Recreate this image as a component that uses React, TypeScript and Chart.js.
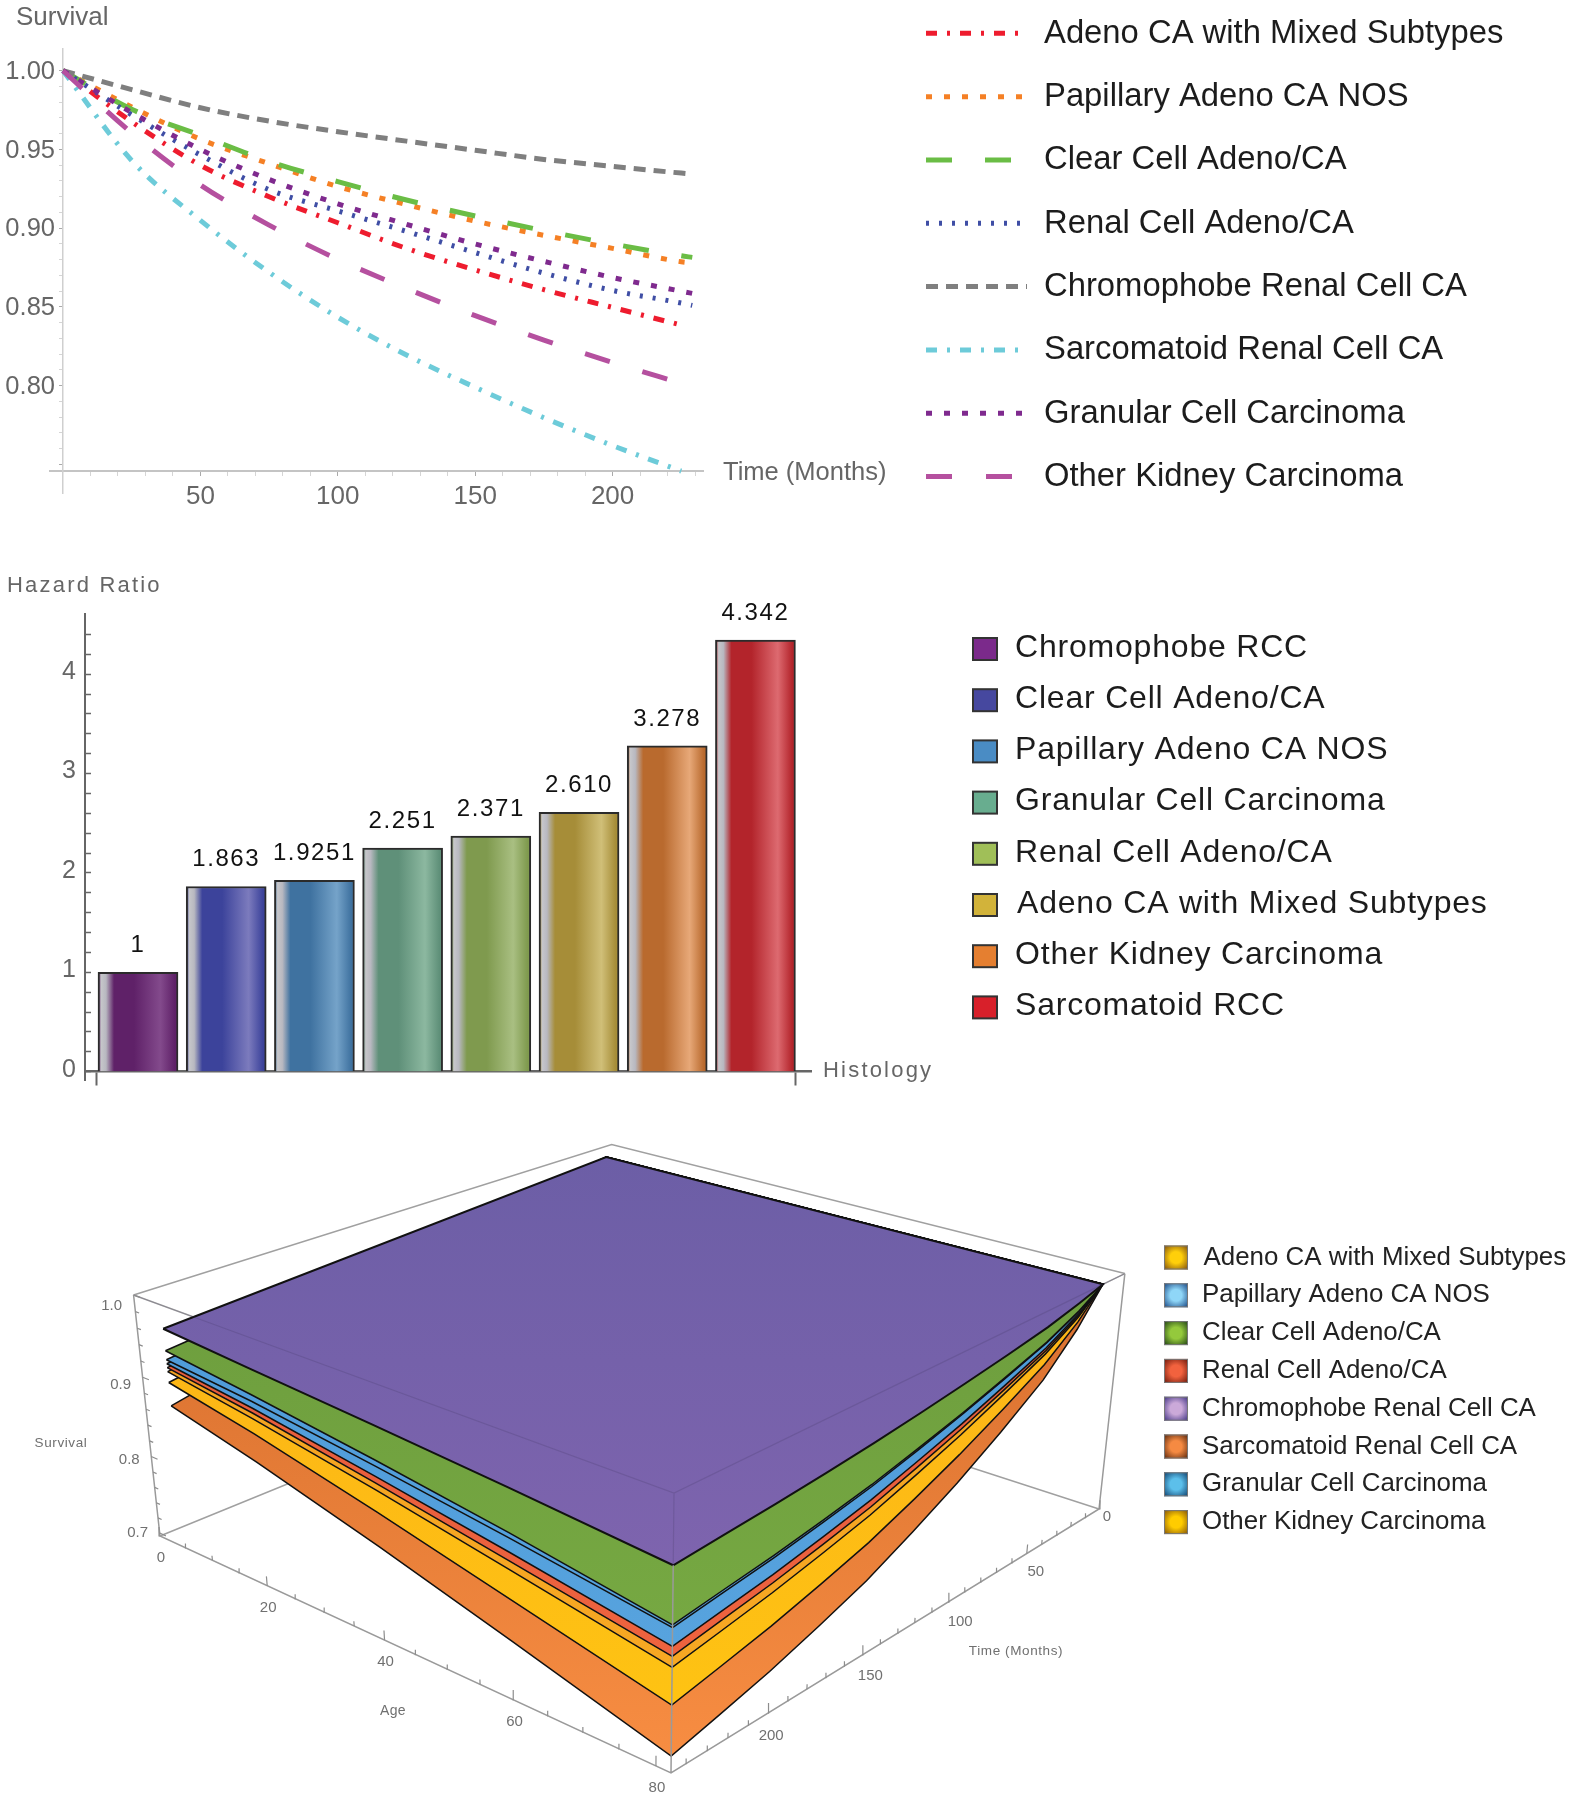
import React, { useEffect, useRef } from "react";
import { Chart, registerables } from "chart.js";
Chart.register(...registerables);

const FONT = '"Liberation Sans", Arial, sans-serif';
const W = 1574;

/* ---------- line chart data ---------- */
const months = [0, 25, 50, 75, 100, 125, 150, 175, 200, 225, 229];
const adenoMixed = [1, 0.9676, 0.94, 0.92, 0.9035, 0.8872, 0.8735, 0.861, 0.8497, 0.8385, null];
const papillary = [1, 0.977, 0.9565, 0.941, 0.9265, 0.915, 0.9045, 0.8955, 0.8872, 0.8787, 0.878];
const clearCell = [1, 0.9755, 0.959, 0.9425, 0.9296, 0.9179, 0.9078, 0.8985, 0.89, 0.8825, 0.8815];
const renalCell = [1, 0.972, 0.9465, 0.9245, 0.911, 0.898, 0.8845, 0.8715, 0.8605, 0.8525, 0.851];
const chromophobe = [1, 0.988, 0.9765, 0.968, 0.9613, 0.9553, 0.9495, 0.9437, 0.9393, 0.935, 0.9344];
const sarcomatoid = [1, 0.943, 0.905, 0.872, 0.8435, 0.8195, 0.799, 0.7797, 0.762, 0.7458, null];
const granular = [1, 0.9735, 0.95, 0.931, 0.9155, 0.9025, 0.89, 0.879, 0.8687, 0.86, 0.8586];
const otherKidney = [1, 0.9605, 0.9275, 0.902, 0.8803, 0.8617, 0.8445, 0.829, 0.8148, 0.8015, null];
const lineNames = ["Adeno CA with Mixed Subtypes", "Papillary Adeno CA NOS", "Clear Cell Adeno/CA", "Renal Cell Adeno/CA", "Chromophobe Renal Cell CA", "Sarcomatoid Renal Cell CA", "Granular Cell Carcinoma", "Other Kidney Carcinoma"];
const lineValues = [adenoMixed, papillary, clearCell, renalCell, chromophobe, sarcomatoid, granular, otherKidney];
const lineColors = ["#ee1c2e", "#f58025", "#6abd45", "#3f4ea5", "#7f7f7f", "#6dcbd9", "#7f2a8e", "#b5509f"];
const lineDashes = [[11, 10, 3, 10], [6, 12], [26, 33], [3, 10], [12, 8], [11, 10, 3, 10], [6, 12], [26, 34]];
const timeLabelled = [50, 100, 150, 200];
const survivalLabelled = [1, 0.95, 0.9, 0.85, 0.8];

/* ---------- bar chart data ---------- */
const histology = ["Chromophobe RCC", "Clear Cell Adeno/CA", "Papillary Adeno CA NOS", "Granular Cell Carcinoma", "Renal Cell Adeno/CA", "Adeno CA with Mixed Subtypes", "Other Kidney Carcinoma", "Sarcomatoid RCC"];
const hazardRatio = [1, 1.863, 1.9251, 2.251, 2.371, 2.61, 3.278, 4.342];
const hazardText = ["1", "1.863", "1.9251", "2.251", "2.371", "2.610", "3.278", "4.342"];
const hazardLabelled = [0, 1, 2, 3, 4];
const barDark = ["#5f2168", "#3c439b", "#3f72a0", "#5f9079", "#7f9a4e", "#a68d38", "#b96a2e", "#b3242b"];
const barLight = ["#834a8c", "#7c7bbd", "#75a3c9", "#8cb8a0", "#a9bf82", "#d0bf78", "#e7a878", "#dd6a70"];
const barSwatch = ["#7b2a8b", "#46489f", "#4a8cc4", "#68ad8f", "#a0bf58", "#d2b33a", "#e57f30", "#d8202a"];

/* ---------- 3D surface data ---------- */
const surfaceAges = [5, 20, 40, 60, 82];
const surfaceTimes = [15, 30, 50, 75, 100, 125, 150, 175, 200, 225, 247];
const backCornerAge = 3.5;
const chromoAlongAge = [0.9716, 0.963, 0.952, 0.94, 0.9254];
const clearAlongAge = [0.9452, 0.932, 0.912, 0.89, 0.862];
const papillaryAlongAge = [0.9343, 0.924, 0.905, 0.884, 0.859];
const granularAlongAge = [0.9295, 0.916, 0.893, 0.868, 0.8386];
const renalAlongAge = [0.9247, 0.91, 0.885, 0.858, 0.8276];
const adenoAlongAge = [0.9198, 0.903, 0.877, 0.848, 0.8155];
const otherAlongAge = [0.9066, 0.885, 0.851, 0.814, 0.7735];
const sarcomaAlongAge = [0.8777, 0.851, 0.81, 0.766, 0.7155];
const chromoAlongTime = [1, 0.9905, 0.9799, 0.9703, 0.9615, 0.9534, 0.9459, 0.9397, 0.9342, 0.9296, 0.9254];
const clearAlongTime = [1, 0.981, 0.9618, 0.9442, 0.9275, 0.9127, 0.8989, 0.8878, 0.8778, 0.8695, 0.862];
const papillaryAlongTime = [1, 0.9805, 0.961, 0.943, 0.926, 0.9108, 0.8966, 0.8853, 0.875, 0.8665, 0.859];
const granularAlongTime = [1, 0.9775, 0.9549, 0.9343, 0.9147, 0.8975, 0.8813, 0.8683, 0.8566, 0.847, 0.8386];
const renalAlongTime = [1, 0.9755, 0.9516, 0.9296, 0.9087, 0.8903, 0.873, 0.8595, 0.8471, 0.8368, 0.8276];
const adenoAlongTime = [1, 0.9735, 0.9479, 0.9242, 0.9018, 0.8822, 0.8638, 0.8494, 0.8361, 0.825, 0.8155];
const otherAlongTime = [1, 0.9675, 0.935, 0.9055, 0.8782, 0.8539, 0.8316, 0.8141, 0.7981, 0.7848, 0.7735];
const sarcomaAlongTime = [1, 0.9585, 0.9161, 0.8783, 0.8441, 0.814, 0.7864, 0.765, 0.7453, 0.7292, 0.7155];
const surfacesBottomUp = [
  { age: sarcomaAlongAge, time: sarcomaAlongTime, top: "#d0682a", bottom: "#f78d42" },
  { age: otherAlongAge, time: otherAlongTime, top: "#fcae18", bottom: "#fec313" },
  { age: adenoAlongAge, time: adenoAlongTime, top: "#f2a21f", bottom: "#f7a823" },
  { age: renalAlongAge, time: renalAlongTime, top: "#e2583a", bottom: "#ee633f" },
  { age: granularAlongAge, time: granularAlongTime, top: "#4a97d6", bottom: "#57a3de" },
  { age: papillaryAlongAge, time: papillaryAlongTime, top: "#4a97d6", bottom: "#57a3de" },
  { age: clearAlongAge, time: clearAlongTime, top: "#6a9a3c", bottom: "#76a842" },
  { age: chromoAlongAge, time: chromoAlongTime, top: "#6c5ea6", bottom: "#7e64ae" },
];
const surfaceLegend = ["Adeno CA with Mixed Subtypes", "Papillary Adeno CA NOS", "Clear Cell Adeno/CA", "Renal Cell Adeno/CA", "Chromophobe Renal Cell CA", "Sarcomatoid Renal Cell CA", "Granular Cell Carcinoma", "Other Kidney Carcinoma"];
const surfaceLegendInner = ["#ffcf0a", "#8fd6f7", "#94c93c", "#f2623e", "#cba9d9", "#f58a42", "#5cbfea", "#ffcc00"];
const surfaceLegendOuter = ["#7a4a10", "#12407f", "#1a3c12", "#661508", "#3a2e80", "#55230a", "#0b3c6a", "#80500a"];
const ageTicksLabelled = [0, 20, 40, 60, 80];
const timeTicksLabelled = [0, 50, 100, 150, 200];
const timeLabelDx = [8, 9, 12, 8, 3];
const timeLabelDy = [8, 18, 20, 21, 23];
const survivalTicksLabelled = [0.7, 0.8, 0.9, 1.0];

/* view of the 3D box: a perspective camera fixed by four box corners */
const AGE_MAX = 82, TIME_MAX = 247, Z_MIN = 0.696, Z_MAX = 1.0;
const frontBottom = [671, 1773, 1], leftBottom = [160, 1536, 1.215], rightBottom = [1099, 1509, 1.25], frontTop = [674, 1493, 0.935];
const homog = (p: number[]) => [p[0] * p[2], p[1] * p[2], p[2]];
const hF = homog(frontBottom), hL = homog(leftBottom), hR = homog(rightBottom), hT = homog(frontTop);
function project(age: number, time: number, z: number) {
  const a = 1 - age / AGE_MAX, t = 1 - time / TIME_MAX, w = (z - Z_MIN) / (Z_MAX - Z_MIN);
  const h = [0, 1, 2].map((i) => hF[i] + a * (hL[i] - hF[i]) + t * (hR[i] - hF[i]) + w * (hT[i] - hF[i]));
  return { x: h[0] / h[2], y: h[1] / h[2] };
}

function text(ctx: any, s: string, x: number, y: number, size: number, color: string, align = "left", spacing = 0) {
  ctx.save();
  ctx.font = `${size}px ${FONT}`;
  ctx.fillStyle = color;
  ctx.textAlign = align;
  ctx.textBaseline = "middle";
  ctx.letterSpacing = `${spacing}px`;
  ctx.fillText(s, x, y);
  ctx.restore();
}

export default function App() {
  const a = useRef<HTMLCanvasElement>(null);
  const b = useRef<HTMLCanvasElement>(null);
  const c = useRef<HTMLCanvasElement>(null);

  useEffect(() => {
    /* ---------- survival curves ---------- */
    const xTicks1: number[] = [];
    for (let v = 10; v <= 230; v += 10) xTicks1.push(v);
    const yTicks1: number[] = [];
    for (let v = 75; v <= 100; v += 1) yTicks1.push(v / 100);
    const isYMajor = (v: number) => Math.round(v * 100) % 5 === 0;
    const line = new Chart(a.current!, {
      type: "scatter",
      data: {
        datasets: lineNames.map((name, i) => ({
          label: name,
          data: months.map((m, k) => ({ x: m, y: lineValues[i][k] })).filter((p) => p.y !== null),
          showLine: true,
          borderColor: lineColors[i],
          borderWidth: 5,
          borderDash: lineDashes[i],
          borderCapStyle: "butt",
          pointRadius: 0,
          cubicInterpolationMode: "monotone",
          order: 8 - i,
        })),
      },
      options: {
        animation: false, responsive: false, devicePixelRatio: 1,
        layout: { padding: { left: 50, right: W - 703, top: 49, bottom: 540 - 493 } },
        plugins: { legend: { display: false }, tooltip: { enabled: false } },
        scales: {
          x: {
            type: "linear", min: -4.73, max: 232.9, position: { y: 0.746 },
            afterBuildTicks: (s: any) => { s.ticks = xTicks1.map((value) => ({ value })); },
            grid: { drawOnChartArea: false, tickLength: 4, tickColor: (t: any) => (t.tick && t.tick.value % 50 === 0 ? "#aaa" : "#d5d5d5") },
            border: { color: "#c4c4c4", width: 2 },
            ticks: {
              autoSkip: false, maxRotation: 0, padding: 6, color: "#666", font: { family: FONT, size: 26 },
              callback: (v: number) => (timeLabelled.includes(v) ? String(v) : ""),
            },
          },
          y: {
            type: "linear", min: 0.7319, max: 1.0138, position: { x: 0 },
            afterBuildTicks: (s: any) => { s.ticks = yTicks1.map((value) => ({ value })); },
            grid: { drawOnChartArea: false, tickLength: 3, tickColor: (t: any) => (t.tick && isYMajor(t.tick.value) ? "#aaa" : "#d5d5d5") },
            border: { color: "#cfcfcf", width: 1.5 },
            ticks: { display: false },
          },
        },
      },
      plugins: [{
        id: "lineText",
        afterDraw(ch: any) {
          const ctx = ch.ctx;
          survivalLabelled.forEach((v) => text(ctx, v.toFixed(2), 55, ch.scales.y.getPixelForValue(v) + 1, 25.5, "#666", "right"));
          text(ctx, "Survival", 16, 18, 26, "#666");
          text(ctx, "Time (Months)", 723, 473, 25.5, "#666");
          lineNames.forEach((name, i) => {
            const y = 33.3 + i * 63.33;
            ctx.save();
            ctx.strokeStyle = lineColors[i];
            ctx.lineWidth = 5;
            ctx.setLineDash(lineDashes[i]);
            ctx.beginPath();
            ctx.moveTo(926, y);
            ctx.lineTo(1027, y);
            ctx.stroke();
            ctx.restore();
            text(ctx, name, 1044, y + 0.5, 32.8, "#1c1c1c");
          });
        },
      }],
    } as any);

    /* ---------- hazard ratio bars ---------- */
    const top2 = 540;
    const yTicks2: number[] = [];
    for (let v = 2; v <= 44; v += 2) yTicks2.push(v / 10);
    const bar = new Chart(b.current!, {
      type: "bar",
      data: {
        datasets: [{
          label: "Hazard Ratio",
          data: hazardRatio.map((y, x) => ({ x, y })),
          barThickness: 80,
          borderWidth: 2,
          borderColor: "#2b2b2b",
          backgroundColor: (ctx: any) => {
            const s = ctx.chart.scales.x;
            const i = ctx.dataIndex;
            if (!s || i === undefined) return "#888";
            const cx = s.getPixelForValue(i);
            if (!Number.isFinite(cx)) return barDark[i];
            const g = ctx.chart.ctx.createLinearGradient(cx - 40, 0, cx + 40, 0);
            g.addColorStop(0, barDark[i]);
            g.addColorStop(0.04, "#c6c6ca");
            g.addColorStop(0.1, "#b8b8c0");
            g.addColorStop(0.2, barDark[i]);
            g.addColorStop(0.45, barDark[i]);
            g.addColorStop(0.78, barLight[i]);
            g.addColorStop(0.96, barDark[i]);
            g.addColorStop(1, barDark[i]);
            return g;
          },
        }],
      },
      options: {
        animation: false, responsive: false, devicePixelRatio: 1,
        layout: { padding: { left: 85, right: W - 811, top: 614 - top2, bottom: 1110 - 1080 } },
        plugins: { legend: { display: false }, tooltip: { enabled: false } },
        scales: {
          x: {
            type: "linear", min: -0.601, max: 7.63, position: { y: 0 }, offset: false,
            afterBuildTicks: (s: any) => { s.ticks = [{ value: -0.465 }, { value: 7.449 }]; },
            grid: { offset: false, drawOnChartArea: false, tickLength: 13, tickColor: "#666", tickWidth: 2 },
            border: { color: "#666", width: 2.5 },
            ticks: { display: false },
          },
          y: {
            type: "linear", min: -0.0835, max: 4.605, position: { x: -0.601 },
            afterBuildTicks: (s: any) => { s.ticks = [{ value: 0 }, ...yTicks2.map((value) => ({ value }))]; },
            grid: { drawOnChartArea: false, tickLength: -7, tickColor: "#666", tickWidth: 1.5 },
            border: { color: "#666", width: 2 },
            ticks: { display: false },
          },
        },
      },
      plugins: [{
        id: "barText",
        afterDraw(ch: any) {
          const ctx = ch.ctx;
          const meta = ch.getDatasetMeta(0);
          hazardLabelled.forEach((v) => text(ctx, String(v), 76, ch.scales.y.getPixelForValue(v) - 2, 25, "#666", "right"));
          hazardText.forEach((t, i) => {
            const el = meta.data[i];
            text(ctx, t, el.x, el.y - 27, 24, "#111", "center", 1.6);
          });
          text(ctx, "Hazard Ratio", 7, 586 - top2, 22, "#666", "left", 2.2);
          text(ctx, "Histology", 823, 1071 - top2, 22, "#666", "left", 2.2);
          histology.forEach((name, i) => {
            const y = 649 + i * 51.2 - top2;
            ctx.save();
            ctx.fillStyle = barSwatch[i];
            ctx.strokeStyle = "#333";
            ctx.lineWidth = 2;
            ctx.fillRect(973, y - 11, 24, 22);
            ctx.strokeRect(973, y - 11, 24, 22);
            ctx.restore();
            text(ctx, name, i === 5 ? 1017 : 1015, y - 1, 32, "#1c1c1c", "left", 0.8);
          });
        },
      }],
    } as any);

    /* ---------- 3D surfaces, projected through the camera and drawn on linear scales ---------- */
    const top3 = 1110;
    const gap = { x: NaN, y: NaN };
    const frame = (color: string, width: number, order: number, data: any[]) => ({
      data, showLine: true, borderColor: color, borderWidth: width, pointRadius: 0, tension: 0, order,
    });
    const zMaxC = Z_MAX, zMinC = Z_MIN;
    const backLines = [
      project(0, TIME_MAX, zMinC), project(0, 0, zMinC), project(AGE_MAX, 0, zMinC), gap,
      project(0, TIME_MAX, zMaxC), project(0, 0, zMaxC), project(AGE_MAX, 0, zMaxC), gap,
      project(0, TIME_MAX, zMaxC), project(AGE_MAX, TIME_MAX, zMaxC), project(AGE_MAX, 0, zMaxC),
    ];
    const faintLines = [
      project(0, TIME_MAX, zMaxC), project(AGE_MAX, TIME_MAX, zMaxC), project(AGE_MAX, 0, zMaxC), gap,
      project(AGE_MAX, TIME_MAX, zMaxC), project(AGE_MAX, TIME_MAX, chromoAlongAge[4]),
    ];
    const frontLines = [
      project(0, TIME_MAX, zMaxC), project(0, TIME_MAX, zMinC), project(AGE_MAX, TIME_MAX, zMinC), project(AGE_MAX, 0, zMinC), project(AGE_MAX, 0, zMaxC), gap,
      project(AGE_MAX, TIME_MAX, chromoAlongAge[4]), project(AGE_MAX, TIME_MAX, zMinC),
    ];
    const tickPts: any[] = [];
    for (let v = 0; v <= 80; v += 5) {
      tickPts.push(project(v, TIME_MAX, zMinC), project(v, TIME_MAX, zMinC + (v % 20 === 0 ? 0.012 : 0.006)), gap);
    }
    for (let v = 0; v <= 240; v += 10) {
      tickPts.push(project(AGE_MAX, v, zMinC), project(AGE_MAX, v, zMinC + (v % 50 === 0 ? 0.012 : 0.006)), gap);
    }
    for (let v = 70; v <= 100; v += 2) {
      const z = v / 100;
      tickPts.push(project(0, TIME_MAX, z), project(v % 10 === 0 ? 1.2 : 0.7, TIME_MAX, z), gap);
    }
    const surfaceSets = surfacesBottomUp.map((s, i) => {
      const pts: any[] = [];
      surfaceAges.forEach((ag, k) => pts.push(project(ag, TIME_MAX, s.age[k])));
      for (let k = surfaceTimes.length - 2; k >= 0; k--) pts.push(project(AGE_MAX, surfaceTimes[k], s.time[k]));
      pts.push(project(backCornerAge, surfaceTimes[0], 1));
      pts.push(pts[0]);
      return {
        data: pts, showLine: true, borderColor: "#111", borderWidth: i === surfacesBottomUp.length - 1 ? 2 : 1.5, pointRadius: 0, tension: 0,
        order: 100 - i, surfaceTop: s.top, surfaceBottom: s.bottom,
      };
    });
    const surface = new Chart(c.current!, {
      type: "scatter",
      data: {
        datasets: [
          frame("#a0a0a0", 1.5, 200, backLines),
          ...surfaceSets,
          frame("rgba(60,50,90,0.2)", 1.2, 3, faintLines),
          frame("#9a9a9a", 1.5, 2, frontLines),
          frame("#8d8d8d", 1.2, 1, tickPts),
        ],
      },
      options: {
        animation: false, responsive: false, devicePixelRatio: 1,
        layout: { padding: 0 },
        plugins: { legend: { display: false }, tooltip: { enabled: false } },
        scales: {
          x: { type: "linear", min: 0, max: W, display: false },
          y: { type: "linear", min: top3, max: 1800, reverse: true, display: false },
        },
      },
      plugins: [{
        id: "surfaceFill",
        beforeDatasetDraw(ch: any, args: any) {
          const ds = ch.data.datasets[args.index];
          if (!ds.surfaceTop) return;
          const pts = args.meta.data;
          const ctx = ch.ctx;
          let minY = Infinity, maxY = -Infinity;
          pts.forEach((p: any) => { minY = Math.min(minY, p.y); maxY = Math.max(maxY, p.y); });
          const g = ctx.createLinearGradient(0, minY, 0, maxY);
          g.addColorStop(0, ds.surfaceTop);
          g.addColorStop(1, ds.surfaceBottom);
          ctx.save();
          ctx.fillStyle = g;
          ctx.beginPath();
          pts.forEach((p: any, i: number) => (i ? ctx.lineTo(p.x, p.y) : ctx.moveTo(p.x, p.y)));
          ctx.closePath();
          ctx.fill();
          ctx.restore();
        },
      }, {
        id: "surfaceText",
        afterDraw(ch: any) {
          const ctx = ch.ctx;
          const sx = ch.scales.x, sy = ch.scales.y;
          const put = (s: string, p: { x: number; y: number }, dx: number, dy: number, size = 15, spacing = 0) =>
            text(ctx, s, sx.getPixelForValue(p.x) + dx, sy.getPixelForValue(p.y) + dy, size, "#707070", "center", spacing);
          ageTicksLabelled.forEach((v) => put(String(v), project(v, TIME_MAX, zMinC), 1, 22));
          timeTicksLabelled.forEach((v, i) => put(String(v), project(AGE_MAX, v, zMinC), timeLabelDx[i], timeLabelDy[i]));
          survivalTicksLabelled.forEach((v) => put(v.toFixed(1), project(0, TIME_MAX, v), -22, (v - 0.7) * 36));
          text(ctx, "Survival", 61, 1443 - top3, 13.5, "#707070", "center", 0.6);
          text(ctx, "Age", 393, 1711 - top3, 14, "#707070", "center", 0.4);
          text(ctx, "Time (Months)", 1016, 1651 - top3, 13.5, "#707070", "center", 0.6);
          surfaceLegend.forEach((name, i) => {
            const y = 1257.5 + i * 37.8 - top3;
            const g = ctx.createRadialGradient(1176, y, 1, 1176, y, 17);
            g.addColorStop(0, surfaceLegendInner[i]);
            g.addColorStop(0.3, surfaceLegendInner[i]);
            g.addColorStop(1, surfaceLegendOuter[i]);
            ctx.save();
            ctx.fillStyle = g;
            ctx.fillRect(1164, y - 12, 24, 24);
            ctx.strokeStyle = "#777";
            ctx.lineWidth = 1;
            ctx.strokeRect(1164.5, y - 11.5, 23, 23);
            ctx.restore();
            text(ctx, name, i === 0 ? 1203.5 : 1202, y, 25.9, "#222");
          });
        },
      }],
    } as any);

    return () => { line.destroy(); bar.destroy(); surface.destroy(); };
  }, []);

  const canvasStyle = (top: number, height: number): React.CSSProperties => ({ position: "absolute", left: 0, top, width: W, height, display: "block" });
  return (
    <div style={{ position: "absolute", left: 0, top: 0, width: W, height: 1800, background: "#fff", overflow: "hidden" }}>
      <canvas ref={a} width={W} height={540} style={canvasStyle(0, 540)} />
      <canvas ref={b} width={W} height={570} style={canvasStyle(540, 570)} />
      <canvas ref={c} width={W} height={690} style={canvasStyle(1110, 690)} />
    </div>
  );
}
